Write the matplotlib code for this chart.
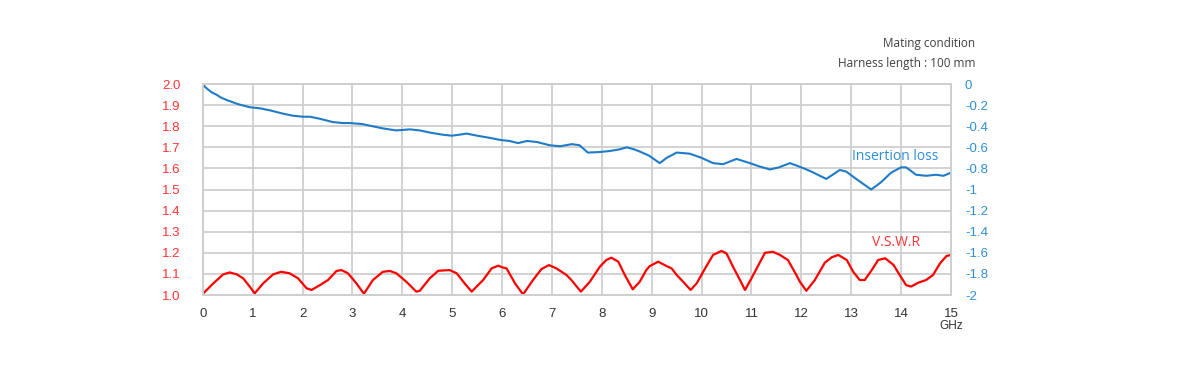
import matplotlib
matplotlib.use("Agg")
import matplotlib.pyplot as plt
from matplotlib.ticker import FixedLocator

# ---- data ----
freq_il = [0, 0.05, 0.1, 0.18, 0.27, 0.37, 0.47, 0.7, 0.94, 1.14, 1.35, 1.6, 1.8, 2.0, 2.15, 2.35, 2.6,
           2.8, 2.95, 3.2, 3.4, 3.6, 3.88, 4.15, 4.35, 4.55, 4.8, 4.99, 5.15, 5.29, 5.5, 5.75, 5.96,
           6.15, 6.32, 6.5, 6.7, 6.95, 7.16, 7.4, 7.55, 7.72, 7.95, 8.16, 8.35, 8.5, 8.65, 8.76,
           8.95, 9.16, 9.3, 9.5, 9.76, 10.0, 10.23, 10.43, 10.7, 10.97, 11.15, 11.37, 11.55, 11.77,
           12.0, 12.2, 12.5, 12.77, 12.9, 13.1, 13.25, 13.4, 13.6, 13.8, 14.0, 14.1, 14.3, 14.5,
           14.7, 14.85, 15.0]
insertion_loss = [0, -0.03, -0.05, -0.08, -0.10, -0.13, -0.15, -0.19, -0.22, -0.23, -0.25, -0.28,
                  -0.30, -0.31, -0.31, -0.33, -0.36, -0.37, -0.37, -0.38, -0.40, -0.42, -0.44, -0.43,
                  -0.44, -0.46, -0.48, -0.49, -0.48, -0.47, -0.49, -0.51, -0.53, -0.54, -0.56, -0.54,
                  -0.55, -0.58, -0.59, -0.57, -0.58, -0.65, -0.645, -0.635, -0.62, -0.60, -0.62,
                  -0.64, -0.68, -0.75, -0.70, -0.65, -0.66, -0.70, -0.75, -0.76, -0.71, -0.75, -0.78,
                  -0.81, -0.79, -0.75, -0.79, -0.83, -0.90, -0.815, -0.83, -0.90, -0.95, -1.00, -0.93,
                  -0.84, -0.79, -0.79, -0.86, -0.87, -0.86, -0.87, -0.84]

freq_vswr = [0.0, 0.01, 0.21, 0.41, 0.54, 0.68, 0.81, 0.94, 1.04, 1.21, 1.41, 1.57, 1.74, 1.91, 2.08,
             2.18, 2.35, 2.51, 2.68, 2.78, 2.91, 3.01, 3.08, 3.23, 3.41, 3.61, 3.75, 3.88, 4.08,
             4.28, 4.35, 4.55, 4.72, 4.95, 5.09, 5.25, 5.39, 5.62, 5.79, 5.92, 6.02, 6.09, 6.26,
             6.42, 6.62, 6.79, 6.94, 7.09, 7.29, 7.39, 7.58, 7.76, 7.96, 8.09, 8.19, 8.33, 8.46,
             8.62, 8.76, 8.89, 8.96, 9.13, 9.3, 9.4, 9.5, 9.63, 9.78, 9.9, 10.07, 10.23, 10.4,
             10.5, 10.63, 10.77, 10.87, 11.0, 11.14, 11.27, 11.43, 11.57, 11.73, 11.9, 11.97,
             12.1, 12.27, 12.47, 12.61, 12.74, 12.91, 13.04, 13.17, 13.27, 13.41, 13.54, 13.68,
             13.85, 13.97, 14.1, 14.2, 14.34, 14.5, 14.64, 14.78, 14.91, 15.0]
vswr = [1.003, 1.008, 1.055, 1.098, 1.107, 1.098, 1.079, 1.04, 1.008, 1.055, 1.098, 1.11, 1.103,
        1.079, 1.032, 1.024, 1.047, 1.071, 1.114, 1.118, 1.103, 1.075, 1.055, 1.006, 1.071, 1.11,
        1.114, 1.103, 1.063, 1.016, 1.02, 1.079, 1.115, 1.118, 1.103, 1.055, 1.016, 1.071, 1.126,
        1.139, 1.13, 1.126, 1.055, 1.003, 1.071, 1.123, 1.142, 1.126, 1.095, 1.071, 1.016, 1.063,
        1.134, 1.166, 1.177, 1.158, 1.095, 1.027, 1.063, 1.118, 1.137, 1.158, 1.137, 1.126,
        1.095, 1.063, 1.024, 1.055, 1.126, 1.19, 1.209, 1.197, 1.134, 1.071, 1.024, 1.079, 1.142,
        1.2, 1.205, 1.19, 1.166, 1.095, 1.063, 1.02, 1.071, 1.153, 1.179, 1.19, 1.166, 1.11, 1.071,
        1.071, 1.118, 1.166, 1.174, 1.142, 1.095, 1.047, 1.04, 1.058, 1.071, 1.095, 1.15, 1.185,
        1.19]

x_ticks = list(range(0, 16))
left_ticks = [1.0, 1.1, 1.2, 1.3, 1.4, 1.5, 1.6, 1.7, 1.8, 1.9, 2.0]
left_labels = ["1.0", "1.1", "1.2", "1.3", "1.4", "1.5", "1.6", "1.7", "1.8", "1.9", "2.0"]
right_ticks = [-2, -1.8, -1.6, -1.4, -1.2, -1, -0.8, -0.6, -0.4, -0.2, 0]
right_labels = ["-2", "-1.8", "-1.6", "-1.4", "-1.2", "-1", "-0.8", "-0.6", "-0.4", "-0.2", "0"]

RED = "#FF0000"
RED_TXT = "#FF3333"
BLUE = "#1F7BC8"
BLUE_TXT = "#2F8FD5"
GRID = "#CFCFCF"

fig = plt.figure(figsize=(12, 3.92), dpi=100)
ax = fig.add_axes([0.169, 0.2474, 0.6235, 0.5383])
ax2 = ax.twinx()

ax.set_xlim(0, 15)
ax.set_ylim(1.0, 2.0)
ax2.set_ylim(-2, 0)

ax.xaxis.set_major_locator(FixedLocator(x_ticks))
ax.set_xticklabels([str(t) for t in x_ticks])
ax.yaxis.set_major_locator(FixedLocator(left_ticks))
ax.set_yticklabels(left_labels)
ax2.yaxis.set_major_locator(FixedLocator(right_ticks))
ax2.set_yticklabels(right_labels)

ax.grid(True, color=GRID, linewidth=1.3)
ax.set_axisbelow(True)
for a in (ax, ax2):
    for s in a.spines.values():
        s.set_color(GRID)
        s.set_linewidth(1.3)

ax.tick_params(axis="x", length=0, pad=9, labelcolor="#333333", labelsize=9.5)
ax.tick_params(axis="y", length=0, pad=16, labelcolor=RED_TXT, labelsize=9.5)
ax2.tick_params(axis="y", length=0, pad=10, labelcolor=BLUE_TXT, labelsize=9.5)
for lab in ax.get_xticklabels() + ax.get_yticklabels() + ax2.get_yticklabels():
    lab.set_fontfamily("Liberation Sans")

ax2.plot(freq_il, insertion_loss, color=BLUE, linewidth=1.5)
ax.plot(freq_vswr, vswr, color=RED, linewidth=1.6)
ax2.set_zorder(ax.get_zorder() + 1)
ax2.patch.set_visible(False)

ann = dict(family="Open Sans", size=8.5, color="#404040", ha="right", va="center")
fig.text(975 / 1200, 1 - 44 / 392, "Mating condition", **ann)
fig.text(975 / 1200, 1 - 64 / 392, "Harness length : 100 mm", **ann)
fig.text(852 / 1200, 1 - 157 / 392, "Insertion loss", family="Open Sans", size=10,
         color=BLUE_TXT, ha="left", va="center")
fig.text(872 / 1200, 1 - 242 / 392, "V.S.W.R", family="Open Sans", size=10,
         color=RED_TXT, ha="left", va="center")
fig.text(951 / 1200, 1 - 326 / 392, "GHz", family="Liberation Sans", size=8.5,
         color="#333333", ha="center", va="center")

fig.savefig("out.png", dpi=100)
